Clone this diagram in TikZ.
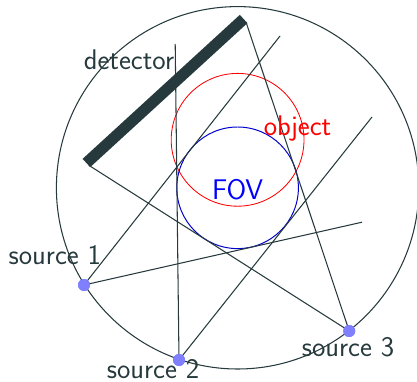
\documentclass[tikz,border=0pt]{standalone}
\usepackage{tikz}
\usetikzlibrary{positioning,calc}
\definecolor{slate}{HTML}{263A3D}
\tikzset{
 ray/.style={slate,line width=0.75pt},
 sourcedot/.style={circle,fill=blue!50,inner sep=0pt,minimum size=0.3cm},
 lab/.style={font=\sffamily\fontsize{20.2}{24}\selectfont,inner sep=0pt,text=slate}
}
\begin{document}
\begin{tikzpicture}
 \useasboundingbox (0,0) rectangle (10.425,9.525);
 \coordinate (O) at (5.94,4.83); \coordinate (Obj) at (5.94,6.03);
 \coordinate (detA) at (2.16,5.45); \coordinate (detB) at (6.09,9.05);
 \coordinate (endA) at (2.225,5.39); \coordinate (endB) at (6.15,8.975);
 \coordinate (ray1a) at (7.0,8.625); \coordinate (ray1b) at (9.05,3.97);
 \coordinate (ray2a) at (4.38,8.425); \coordinate (ray2b) at (9.3,6.6);
 \node[sourcedot] (s1) at (2.10,2.40) {};
 \node[sourcedot] (s2) at (4.475,0.525) {};
 \node[sourcedot] (s3) at (8.73,1.25) {};
 \draw[ray] (O) circle (4.53);
 \draw[red,line width=0.6pt] (Obj) circle (1.66);
 \draw[blue!80!black,line width=0.7pt] (O) circle (1.52);
 \draw[slate,line width=8pt] (detA)--(detB);
 \foreach \a/\b in {s1/ray1a,s1/ray1b,s2/ray2a,s2/ray2b,s3/endA,s3/endB}
 {\draw[ray] (\a.center)--(\b);}
 \node[sourcedot] at (s1) {};
 \node[sourcedot] at (s2) {};
 \node[sourcedot] at (s3) {};
 \node[lab] (detlab) at (3.225,8.03) {detector};
 \node[lab,text=red] (objlab) at (7.44,6.32) {object};
 \node[lab,text=blue] (fovlab) at (5.94,4.79) {FOV};
 \node[lab] (lab1) at (1.37,3.15) {source 1};
 \node[lab] (lab2) at (3.825,0.29) {source 2};
 \node[lab] (lab3) at (8.7,0.84) {source 3};
\end{tikzpicture}
\end{document}
